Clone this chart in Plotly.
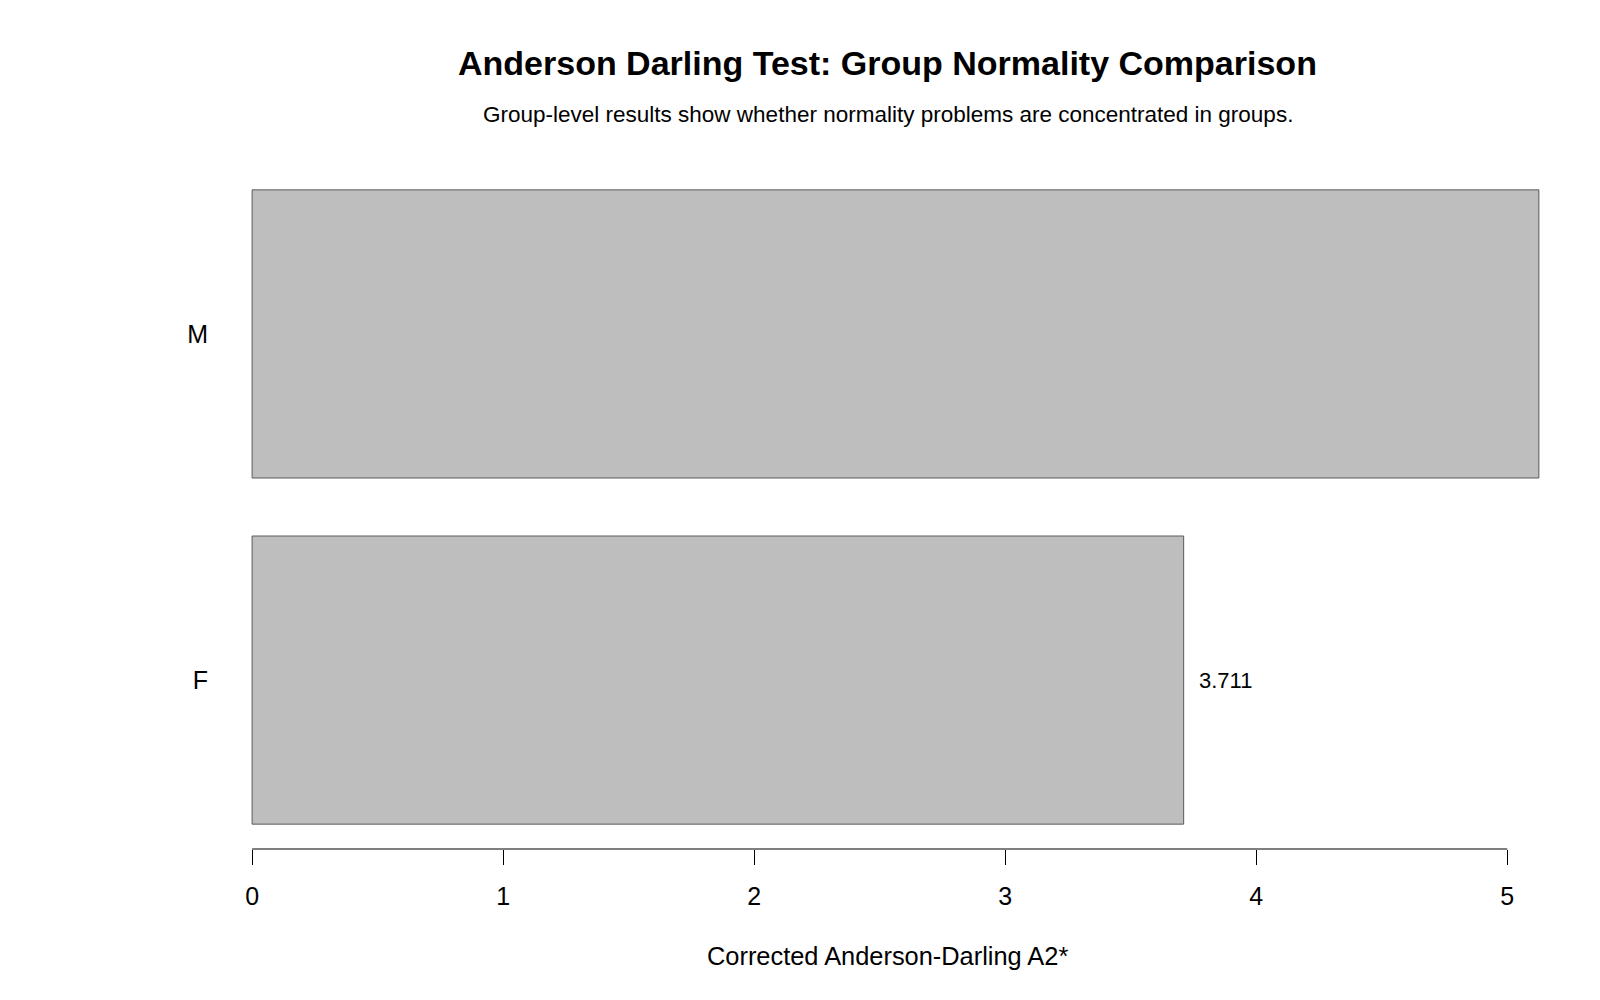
import plotly.graph_objects as go

groups = ["F", "M"]
a2_values = [3.711, 5.126]
value_labels = ["3.711", ""]
x_ticks = [0, 1, 2, 3, 4, 5]

title_text = "Anderson Darling Test: Group Normality Comparison"
subtitle_text = "Group-level results show whether normality problems are concentrated in groups."
x_title = "Corrected Anderson-Darling A2*"

FONT = "Liberation Sans, Arial, sans-serif"

fig = go.Figure()
fig.add_trace(go.Bar(
    y=groups, x=a2_values, orientation="h",
    marker=dict(color="#BEBEBE", line=dict(color="#5a5a5a", width=1)),
    hoverinfo="x+y",
))

for g, v, lab in zip(groups, a2_values, value_labels):
    if lab:
        fig.add_annotation(x=v, y=g, xref="x", yref="y", text=lab, showarrow=False,
                           xanchor="left", yanchor="middle", xshift=13,
                           font=dict(family=FONT, size=22, color="black"))

# axis line spanning only the tick range, like R's axis()
fig.add_shape(type="line", xref="x", yref="paper", x0=min(x_ticks), x1=max(x_ticks),
              y0=0, y1=0, line=dict(color="black", width=1.2))

fig.add_annotation(xref="paper", yref="paper", x=0.492, y=1.149, text="<b>" + title_text + "</b>",
                   showarrow=False, xanchor="center", yanchor="middle",
                   font=dict(family=FONT, size=34, color="black"))
fig.add_annotation(xref="paper", yref="paper", x=0.492, y=1.074, text=subtitle_text,
                   showarrow=False, xanchor="center", yanchor="middle",
                   font=dict(family=FONT, size=22.5, color="black"))
fig.add_annotation(xref="paper", yref="paper", x=0.492, y=-0.156, text=x_title,
                   showarrow=False, xanchor="center", yanchor="middle",
                   font=dict(family=FONT, size=25.4, color="black"))

fig.update_layout(
    width=1600, height=1000,
    margin=dict(l=227, r=30, t=165, b=151),
    plot_bgcolor="white", paper_bgcolor="white",
    bargap=0.1676,
    showlegend=False,
    font=dict(family=FONT, color="black"),
)
fig.update_xaxes(range=[-0.1, 5.25], tickvals=x_ticks, ticktext=[str(t) for t in x_ticks],
                 ticks="outside", ticklen=15, tickwidth=1.2, tickcolor="black",
                 showgrid=False, zeroline=False, showline=False,
                 tickfont=dict(family=FONT, size=25, color="black"), ticklabelstandoff=10)
fig.update_yaxes(categoryorder="array", categoryarray=groups, range=[-0.488, 1.488],
                 showgrid=False, zeroline=False, showline=False, ticks="",
                 tickfont=dict(family=FONT, size=25, color="black"), ticklabelstandoff=18)

fig.write_html("out.html")
